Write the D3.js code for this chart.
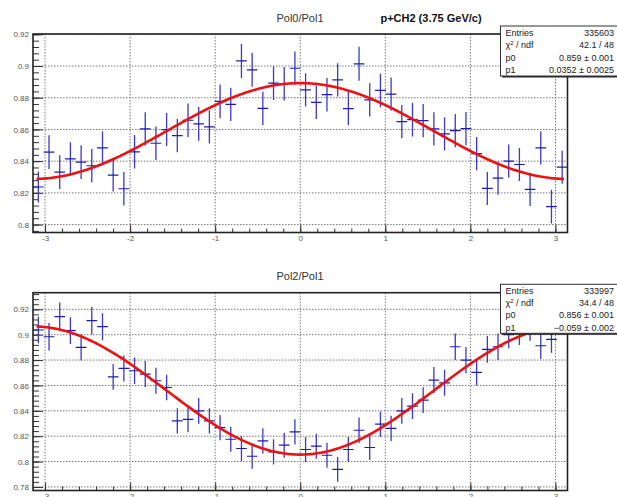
<!DOCTYPE html>
<html>
<head>
<meta charset="utf-8">
<script src="https://cdn.jsdelivr.net/npm/d3@7"></script>
<style>
  body { margin: 0; background: #fff; }
  svg { display: block; font-family: "Liberation Sans", Arial, sans-serif; }
</style>
</head>
<body>
<div class="container"></div>
<script>
// ratio values per phi bin (50 bins over -pi..pi)
const pol0Pol1 = [
  0.8237, 0.8457, 0.8331, 0.8415, 0.8394, 0.8371, 0.8484, 0.8312, 0.8226, 0.8459,
  0.8603, 0.8513, 0.8599, 0.8561, 0.8658, 0.8635, 0.8616, 0.8777, 0.8758, 0.9032,
  0.8976, 0.8733, 0.8892, 0.8888, 0.8986, 0.8850, 0.8771, 0.8819, 0.8913, 0.8731,
  0.9014, 0.8787, 0.8846, 0.8823, 0.8649, 0.8662, 0.8655, 0.8603, 0.8572, 0.8593,
  0.8605, 0.8448, 0.8228, 0.8293, 0.8400, 0.8379, 0.8222, 0.8484, 0.8113, 0.8362
]
const pol0Err = [
  0.0098, 0.0107, 0.0106, 0.0105, 0.0106, 0.0106, 0.0105, 0.0104, 0.0105, 0.0106,
  0.0105, 0.0105, 0.0104, 0.0105, 0.0105, 0.0106, 0.0105, 0.0106, 0.0105, 0.0107,
  0.0106, 0.0105, 0.0106, 0.0106, 0.0105, 0.0105, 0.0105, 0.0106, 0.0105, 0.0105,
  0.0107, 0.0105, 0.0106, 0.0105, 0.0105, 0.0106, 0.0105, 0.0105, 0.0105, 0.0105,
  0.0105, 0.0105, 0.0104, 0.0105, 0.0105, 0.0104, 0.0105, 0.0105, 0.0106, 0.0104
]
const pol2Pol1 = [
  0.9037, 0.8984, 0.9142, 0.9032, 0.8900, 0.9111, 0.9063, 0.8668, 0.8734, 0.8716,
  0.8689, 0.8637, 0.8584, 0.8321, 0.8332, 0.8400, 0.8321, 0.8268, 0.8176, 0.8103,
  0.8042, 0.8163, 0.8076, 0.8129, 0.8234, 0.8095, 0.8121, 0.8050, 0.7939, 0.8095,
  0.8247, 0.8111, 0.8295, 0.8261, 0.8400, 0.8437, 0.8484, 0.8642, 0.8621, 0.8905,
  0.8800, 0.8703, 0.8884, 0.8905, 0.9000, 0.9025, 0.9060, 0.8913, 0.8963, 0.9150
]
const pol2Err = [
  0.0105, 0.0108, 0.0112, 0.0105, 0.0104, 0.0108, 0.0106, 0.0102, 0.0103, 0.0104,
  0.0103, 0.0102, 0.0101, 0.0100, 0.0101, 0.0102, 0.0100, 0.0100, 0.0099, 0.0099,
  0.0098, 0.0100, 0.0099, 0.0099, 0.0100, 0.0099, 0.0099, 0.0099, 0.0098, 0.0099,
  0.0100, 0.0099, 0.0100, 0.0100, 0.0101, 0.0102, 0.0102, 0.0104, 0.0103, 0.0105,
  0.0104, 0.0103, 0.0105, 0.0105, 0.0106, 0.0106, 0.0107, 0.0105, 0.0106, 0.0107
]

const yTicksTop = [0.8, 0.82, 0.84, 0.86, 0.88, 0.9, 0.92]
const yTicksBottom = [0.78, 0.8, 0.82, 0.84, 0.86, 0.88, 0.9, 0.92]
const xTicks = [-3, -2, -1, 0, 1, 2, 3]

const statsTop = [['Entries', '335603'], ['chi', '42.1 / 48'], ['p0', '0.859 \u00b1 0.001'], ['p1', '0.0352 \u00b1 0.0025']]
const statsBottom = [['Entries', '333997'], ['chi', '34.4 / 48'], ['p0', '0.856 \u00b1 0.001'], ['p1', '\u22120.059 \u00b1 0.002']]

const fitTop = { p0: 0.859, p1: 0.0352 }
const fitBottom = { p0: 0.856, p1: -0.059 }

const W = 617, H = 497

let svg = d3.select('.container')
  .append('svg')
  .attr('width', W)
  .attr('height', H)

function range(a, b, step) {
  let out = []
  for (let v = a; v <= b + 1e-9; v += step) out.push(+v.toFixed(4))
  return out
}

function drawPanel(opt) {
  let x = d3.scaleLinear().domain([-Math.PI, Math.PI]).range([33, 567.5])
  let y = d3.scaleLinear().domain(opt.yDomain).range([opt.bottom, opt.top])
  let clipId = 'clip' + opt.id

  svg.append('clipPath').attr('id', clipId)
    .append('rect')
    .attr('x', x.range()[0]).attr('y', opt.top)
    .attr('width', x.range()[1] - x.range()[0])
    .attr('height', opt.bottom - opt.top)

  let g = svg.append('g')

  // grid
  g.selectAll('.gx').data(xTicks).enter().append('line')
    .attr('x1', d => x(d)).attr('x2', d => x(d))
    .attr('y1', opt.top).attr('y2', opt.bottom)
    .attr('stroke', '#777').attr('stroke-width', 1).attr('stroke-dasharray', '1.5,1.5')
  g.selectAll('.gy').data(opt.yTicks).enter().append('line')
    .attr('x1', x.range()[0]).attr('x2', x.range()[1])
    .attr('y1', d => y(d)).attr('y2', d => y(d))
    .attr('stroke', '#777').attr('stroke-width', 1).attr('stroke-dasharray', '1.5,1.5')

  // y axis: inward ticks
  let yMinor = range(opt.yDomain[0] - (opt.yDomain[0] * 1000 % 4) / 1000, opt.yDomain[1], 0.004)
    .filter(v => v >= opt.yDomain[0] && v <= opt.yDomain[1])
  g.append('g').attr('transform', `translate(${x.range()[0]},0)`)
    .call(d3.axisLeft(y).tickValues(yMinor).tickSize(-6).tickFormat(''))
  g.append('g').attr('class', 'yax').attr('transform', `translate(${x.range()[0]},0)`)
    .call(d3.axisLeft(y).tickValues(opt.yTicks).tickSize(-10).tickPadding(4)
      .tickFormat(d => String(+d.toFixed(2))))

  // x axis: inward ticks
  let xMinor = range(-3.2, 3.2, 0.2).filter(v => v > -Math.PI && v < Math.PI)
  g.append('g').attr('transform', `translate(0,${opt.bottom})`)
    .call(d3.axisBottom(x).tickValues(xMinor).tickSize(-4).tickFormat(''))
  g.append('g').attr('class', 'xax').attr('transform', `translate(0,${opt.bottom})`)
    .call(d3.axisBottom(x).tickValues(xTicks).tickSize(-8).tickPadding(3)
      .tickFormat(d => String(d)))

  g.selectAll('.domain').remove()
  g.selectAll('.tick line').attr('stroke', '#333').attr('stroke-width', 1)
  g.selectAll('.tick text').attr('fill', '#555').style('font-size', '8px')
    .style('font-family', '"Liberation Sans", Arial, sans-serif')

  // data points with error bars
  let n = opt.values.length
  let bw = 2 * Math.PI / n
  let pts = opt.values.map((v, i) => ({ c: -Math.PI + (i + 0.5) * bw, v: v, e: opt.errs[i] }))
  let pg = svg.append('g').attr('clip-path', `url(#${clipId})`)
  pg.selectAll('.ev').data(pts).enter().append('line')
    .attr('x1', d => x(d.c)).attr('x2', d => x(d.c))
    .attr('y1', d => y(d.v - d.e)).attr('y2', d => y(d.v + d.e))
    .attr('stroke', '#3a3ac4').attr('stroke-width', 1.3)
  pg.selectAll('.eh').data(pts).enter().append('line')
    .attr('x1', d => x(d.c - bw / 2)).attr('x2', d => x(d.c + bw / 2))
    .attr('y1', d => y(d.v)).attr('y2', d => y(d.v))
    .attr('stroke', '#1c1cb0').attr('stroke-width', 1.2)

  // fit curve  p0 * (1 + p1 cos(phi))
  let fx = d3.range(-3.1, 3.1001, 0.02)
  let line = d3.line()
    .x(d => x(d))
    .y(d => y(opt.fit.p0 * (1 + opt.fit.p1 * Math.cos(d))))
    .curve(d3.curveLinear)
  pg.append('path').datum(fx)
    .attr('d', line)
    .attr('fill', 'none')
    .attr('stroke', '#ee1111')
    .attr('stroke-width', 2.6)

  // frame
  svg.append('rect')
    .attr('x', x.range()[0]).attr('y', opt.top)
    .attr('width', x.range()[1] - x.range()[0])
    .attr('height', opt.bottom - opt.top)
    .attr('fill', 'none').attr('stroke', '#222').attr('stroke-width', 1.6)

  // title
  svg.append('text')
    .attr('x', 300).attr('y', opt.titleY)
    .attr('text-anchor', 'middle')
    .attr('fill', '#333')
    .style('font-size', '11px')
    .text(opt.title)

  // stats box
  let sb = opt.stats
  let bx = 500.5, bwid = 130, by = opt.statsTop, bh = opt.statsH
  svg.append('rect').attr('x', bx + 1.5).attr('y', by + 1.5)
    .attr('width', bwid).attr('height', bh).attr('fill', '#222')
  svg.append('rect').attr('x', bx).attr('y', by)
    .attr('width', bwid).attr('height', bh)
    .attr('fill', '#fff').attr('stroke', '#333').attr('stroke-width', 1)
  let rowH = bh / sb.length
  sb.forEach((r, i) => {
    let ty = by + rowH * (i + 0.5) + 3.5
    let lt = svg.append('text').attr('x', bx + 5).attr('y', ty)
      .attr('fill', '#222').style('font-size', '9px')
    if (r[0] === 'chi') {
      lt.append('tspan').text('\u03c7')
      lt.append('tspan').attr('dy', -3).style('font-size', '6px').text('2')
      lt.append('tspan').attr('dy', 3).text(' / ndf')
    } else {
      lt.text(r[0])
    }
    svg.append('text').attr('x', 614).attr('y', ty)
      .attr('text-anchor', 'end')
      .attr('fill', '#222').style('font-size', '9px')
      .text(r[1])
  })
}

drawPanel({
  id: 'top', top: 34, bottom: 232.5, yDomain: [0.795, 0.9202],
  yTicks: yTicksTop, values: pol0Pol1, errs: pol0Err, fit: fitTop,
  title: 'Pol0/Pol1', titleY: 22, stats: statsTop, statsTop: 26, statsH: 50
})

drawPanel({
  id: 'bottom', top: 292.7, bottom: 490.5, yDomain: [0.7772, 0.9331],
  yTicks: yTicksBottom, values: pol2Pol1, errs: pol2Err, fit: fitBottom,
  title: 'Pol2/Pol1', titleY: 280, stats: statsBottom, statsTop: 284.3, statsH: 49
})

svg.append('text')
  .attr('x', 431).attr('y', 22)
  .attr('text-anchor', 'middle')
  .attr('fill', '#111')
  .style('font-size', '11px')
  .style('font-weight', 'bold')
  .text('p+CH2 (3.75 GeV/c)')
</script>
</body>
</html>
